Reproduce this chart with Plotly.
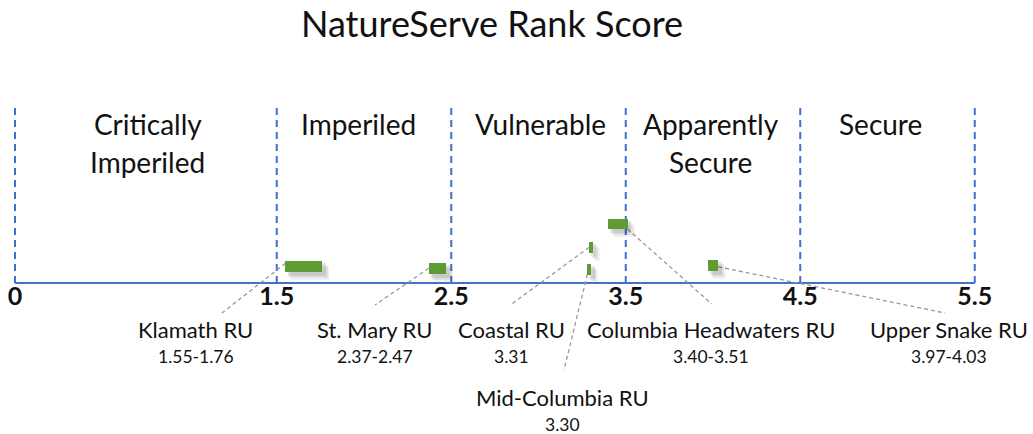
import plotly.graph_objects as go

# ---- data ----
units = ["Klamath RU", "St. Mary RU", "Coastal RU", "Mid-Columbia RU",
         "Columbia Headwaters RU", "Upper Snake RU"]
score_low = [1.55, 2.37, 3.29, 3.28, 3.40, 3.97]
score_high = [1.76, 2.47, 3.31, 3.30, 3.51, 4.03]
score_text = ["1.55-1.76", "2.37-2.47", "3.31", "3.30", "3.40-3.51", "3.97-4.03"]

rank_bounds = [0, 1.5, 2.5, 3.5, 4.5, 5.5]
tick_labels = ["0", "1.5", "2.5", "3.5", "4.5", "5.5"]
rank_names = [["Critically", "Imperiled"], ["Imperiled"], ["Vulnerable"],
              ["Apparently", "Secure"], ["Secure"]]
rank_name_x = [0.762, 1.966, 3.009, 3.986, 4.96]

# ---- layout helpers (pixel rows on a reversed y axis) ----
bar_row = [266.3, 268.3, 247.3, 269.3, 224.0, 265.8]
bar_h = [10.7, 11.3, 10.7, 10.7, 10.7, 11.0]
label_x = [1.037, 2.063, 2.845, 3.135, 3.989, 5.352]
label_y = [329.5, 329.5, 329.5, 397.0, 329.5, 329.5]
leader_side = ["low", "low", "low", "low", "high", "high"]
leader_dy = [-3, 0, 0, 5, 5, 1]
leader_end_x = [1.186, 2.063, 2.846, 3.146, 3.993, 5.33]
leader_end_y = [313, 305, 304, 370, 304, 313]

GREEN = "#5E9B34"
BLUE = "#4472C4"
FONT = "Lato"
W, H = 1033, 434
PX0, PXU = 15.0, 174.5        # pixel of score 0, pixels per score unit
AXIS_Y = 283

fig = go.Figure()

# soft shadow layers
for dx, dy, op in [(0.012, 3, 0.10), (0.022, 5, 0.07), (0.032, 7, 0.05)]:
    fig.add_trace(go.Bar(
        orientation="h",
        y=[r + dy for r in bar_row],
        base=[l + dx for l in score_low],
        x=[h - l + 0.01 for l, h in zip(score_low, score_high)],
        width=[w + 2 for w in bar_h],
        marker=dict(color=f"rgba(0,0,0,{op})", line=dict(width=0)),
        hoverinfo="skip", showlegend=False,
    ))

fig.add_trace(go.Bar(
    orientation="h",
    y=bar_row,
    base=score_low,
    x=[h - l for l, h in zip(score_low, score_high)],
    width=bar_h,
    marker=dict(color=GREEN, line=dict(width=0)),
    text=units, hoverinfo="text", textposition="none",
    showlegend=False,
))

shapes = []
for b in rank_bounds:
    shapes.append(dict(type="line", xref="x", yref="y", x0=b, x1=b, y0=108, y1=AXIS_Y,
                       line=dict(color="#3A6FD6", width=2, dash="7px,5px"), layer="below"))
shapes.append(dict(type="line", xref="x", yref="y", x0=rank_bounds[0], x1=rank_bounds[-1],
                   y0=AXIS_Y, y1=AXIS_Y, line=dict(color=BLUE, width=2), layer="below"))

annotations = []
for i, u in enumerate(units):
    sx = score_low[i] if leader_side[i] == "low" else score_high[i]
    shapes.append(dict(type="line", xref="x", yref="y", x0=sx, y0=bar_row[i] + leader_dy[i],
                       x1=leader_end_x[i], y1=leader_end_y[i],
                       line=dict(color="#999999", width=1.3, dash="4px,3px"), layer="below"))
    annotations.append(dict(x=label_x[i], y=label_y[i], xref="x", yref="y", text=u,
                            showarrow=False, xanchor="center", yanchor="middle",
                            font=dict(family=FONT, size=22, color="#111111")))
    annotations.append(dict(x=label_x[i], y=label_y[i] + 27, xref="x", yref="y", text=score_text[i],
                            showarrow=False, xanchor="center", yanchor="middle",
                            font=dict(family=FONT, size=17.5, color="#111111")))

for names, cx in zip(rank_names, rank_name_x):
    for j, nm in enumerate(names):
        annotations.append(dict(x=cx, y=123.5 + 38.5 * j, xref="x", yref="y", text=nm,
                                showarrow=False, xanchor="center", yanchor="middle",
                                font=dict(family=FONT, size=28, color="#111111")))

fig.update_layout(
    width=W, height=H,
    margin=dict(l=0, r=0, t=0, b=0),
    paper_bgcolor="white", plot_bgcolor="white",
    title=dict(text="NatureServe Rank Score", x=492 / W, xanchor="center",
               y=1 - 24 / H, yanchor="middle", xref="container", yref="container",
               font=dict(family=FONT, size=36, color="#111111")),
    xaxis=dict(range=[-PX0 / PXU, (W - PX0) / PXU], anchor="free", position=(H - AXIS_Y) / H,
               showline=False, showgrid=False, zeroline=False,
               tickvals=rank_bounds, ticktext=tick_labels,
               ticks="", ticklabelstandoff=-4,
               tickfont=dict(family=FONT, size=25, color="#111111", weight="bold")),
    yaxis=dict(range=[H, 0], visible=False),
    barmode="overlay", bargap=0,
    shapes=shapes, annotations=annotations,
)

fig.write_html("out.html", config={"displayModeBar": False},
               post_script="document.body.style.margin='0';document.body.style.padding='0';")
